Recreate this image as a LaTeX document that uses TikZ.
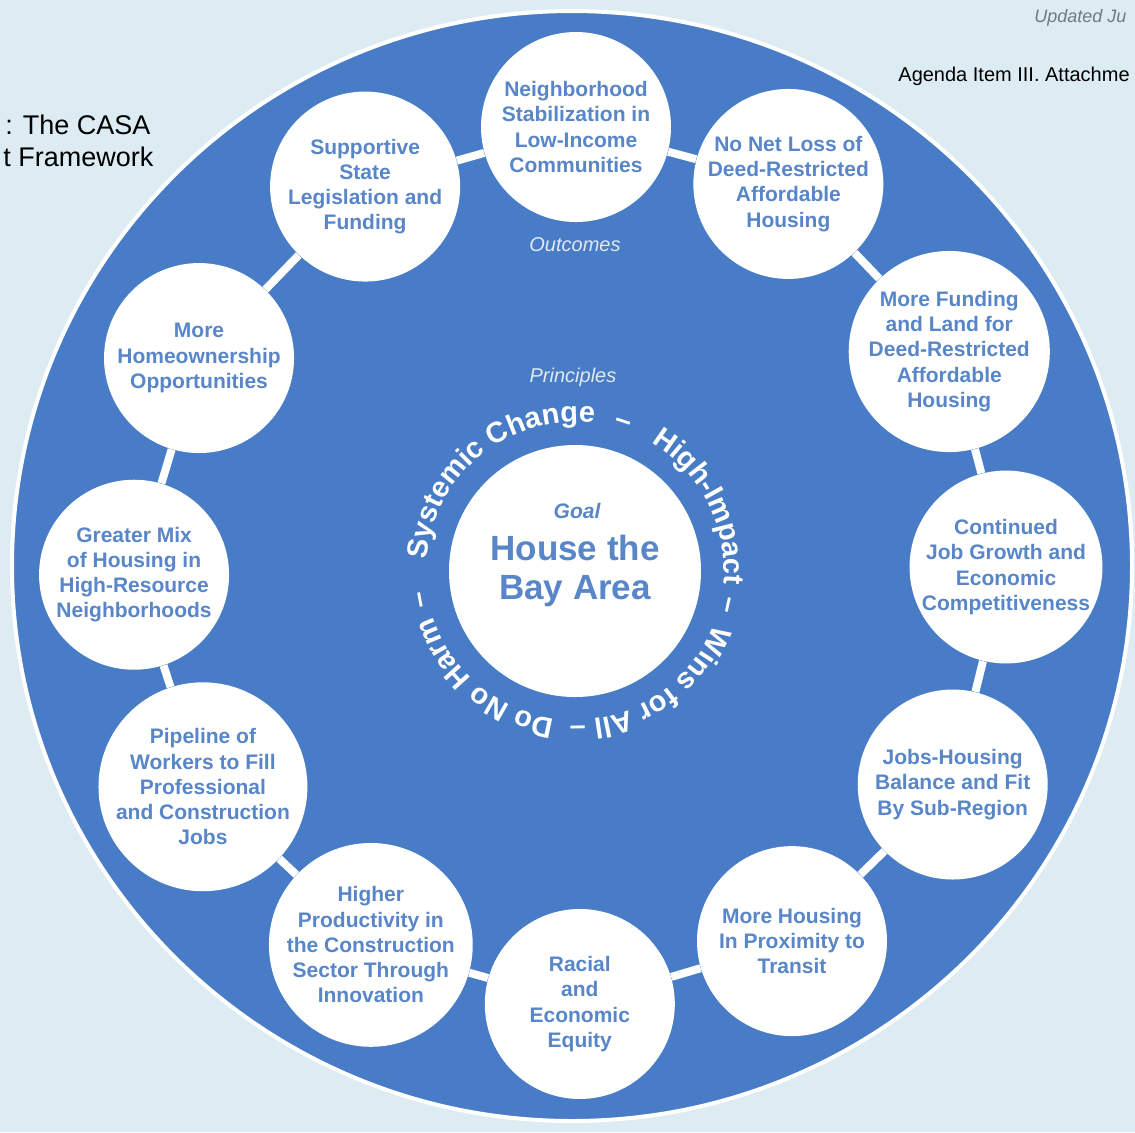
\documentclass[tikz,border=0pt]{standalone}
\usepackage{fontspec}
\setmainfont{Liberation Sans}
\usepackage{xcolor}
\usetikzlibrary{calc}
\usetikzlibrary{decorations.text}

\definecolor{pagebg}{RGB}{221,236,242}
\definecolor{bayblue}{RGB}{73,124,198}
\definecolor{baytext}{RGB}{88,134,200}
\definecolor{paletag}{RGB}{224,232,244}
\definecolor{stampgray}{RGB}{112,120,132}

\newcommand{\ringfont}{\fontsize{10.5}{12.6}\selectfont\bfseries}
\newcommand{\principlefont}{\fontsize{14.5}{14.5}\selectfont\bfseries}

\begin{document}
\begin{tikzpicture}[x=0.5pt,y=0.5pt,
    outcome/.style={circle, fill=white, minimum size=95pt, inner sep=0pt,
      align=center, text=baytext, font=\ringfont},
    link/.style={white, line width=4pt},
    tag/.style={text=paletag, font=\fontsize{10}{12}\selectfont\itshape},
    principle/.style={decorate, decoration={text along path, text align=center,
      text color=white, text={|\principlefont|#1}}}]
  \useasboundingbox (0,0) rectangle (1135,-1132);
  \fill[pagebg] (0,0) rectangle (1135,-1132);

  % page header, cut by the scan
  \node[anchor=west, inner sep=0pt, font=\fontsize{9}{11}\selectfont\itshape, text=stampgray] (stamp) at (1034,-18) {Updated Ju};
  \node[anchor=west, inner sep=0pt, font=\fontsize{10}{12}\selectfont] (agenda) at (898,-76) {Agenda Item III. Attachme};
  \node[anchor=west, inner sep=0pt, font=\fontsize{13.5}{16}\selectfont] (title1) at (5,-125) {: The CASA};
  \node[anchor=west, inner sep=0pt, font=\fontsize{13.5}{16}\selectfont] (title2) at (3,-157) {t Framework};

  % big disk
  \coordinate (hub) at (576,-567);
  \fill[bayblue, draw=white, line width=2pt] (572,-566) ellipse[x radius=560, y radius=555];

  % outcomes
  \node[outcome] (stab) at ($(hub)+(90:440)$) {Neighborhood\\Stabilization in\\Low-Income\\Communities};
  \node[outcome] (noloss) at ($(hub)+(61:438)$) {No Net Loss of\\Deed-Restricted\\Affordable\\Housing};
  \node[outcome] (funding) at ($(hub)+(30:431)$) {More Funding\\and Land for\\Deed-Restricted\\Affordable\\Housing};
  \node[outcome] (jobs) at ($(hub)+(0:430)$) {Continued\\Job Growth and\\Economic\\Competitiveness};
  \node[outcome] (balance) at ($(hub)+(-30:435)$) {Jobs-Housing\\Balance and Fit\\By Sub-Region};
  \node[outcome] (transit) at ($(hub)+(-60:432)$) {More Housing\\In Proximity to\\Transit};
  \node[outcome] (equity) at ($(hub)+(-89.5:437)$) {Racial\\and\\Economic\\Equity};
  \node[outcome] (productivity) at ($(hub)+(241.5:430)$) {Higher\\Productivity in\\the Construction\\Sector Through\\Innovation};
  \node[outcome] (pipeline) at ($(hub)+(210.5:433)$) {Pipeline of\\Workers to Fill\\Professional\\and Construction\\Jobs};
  \node[outcome] (mix) at ($(hub)+(181:442)$) {Greater Mix\\of Housing in\\High-Resource\\Neighborhoods};
  \node[outcome] (ownership) at ($(hub)+(151:431)$) {More\\Homeownership\\Opportunities};
  \node[outcome] (legislation) at ($(hub)+(119:435)$) {Supportive\\State\\Legislation and\\Funding};

  \draw[link] (stab) -- (noloss);
  \draw[link] (noloss) -- (funding);
  \draw[link] (funding) -- (jobs);
  \draw[link] (jobs) -- (balance);
  \draw[link] (balance) -- (transit);
  \draw[link] (transit) -- (equity);
  \draw[link] (equity) -- (productivity);
  \draw[link] (productivity) -- (pipeline);
  \draw[link] (pipeline) -- (mix);
  \draw[link] (mix) -- (ownership);
  \draw[link] (ownership) -- (legislation);
  \draw[link] (legislation) -- (stab);

  \node[tag] (outcomes) at (575,-245) {Outcomes};
  \node[tag] (principles) at (573,-377) {Principles};

  % goal
  \node[circle, fill=white, minimum size=126pt, inner sep=0pt, align=center, text=baytext,
    font=\fontsize{17.5}{19.5}\selectfont\bfseries] (goal) at (575,-571) {House the\\Bay Area};
  \node[text=baytext, font=\fontsize{10.5}{12}\selectfont\bfseries\itshape] (goaltag) at (577,-511) {Goal};

  % principles round the goal
  \path[principle={Systemic Change}] ($(goal)+(199:149)$) arc[start angle=199, end angle=59, radius=149];
  \path[principle={–}] ($(goal)+(112:149)$) arc[start angle=112, end angle=32, radius=149];
  \path[principle={High-Impact}] ($(goal)+(97:149)$) arc[start angle=97, end angle=-43, radius=149];
  \path[principle={–}] ($(goal)+(27.5:149)$) arc[start angle=27.5, end angle=-52.5, radius=149];
  \path[principle={Wins for All}] ($(goal)+(18:149)$) arc[start angle=18, end angle=-122, radius=149];
  \path[principle={–}] ($(goal)+(-49:149)$) arc[start angle=-49, end angle=-129, radius=149];
  \path[principle={Do No Harm}] ($(goal)+(-60:149)$) arc[start angle=-60, end angle=-200, radius=149];
  \path[principle={–}] ($(goal)+(-129.5:149)$) arc[start angle=-129.5, end angle=-209.5, radius=149];
\end{tikzpicture}
\end{document}
